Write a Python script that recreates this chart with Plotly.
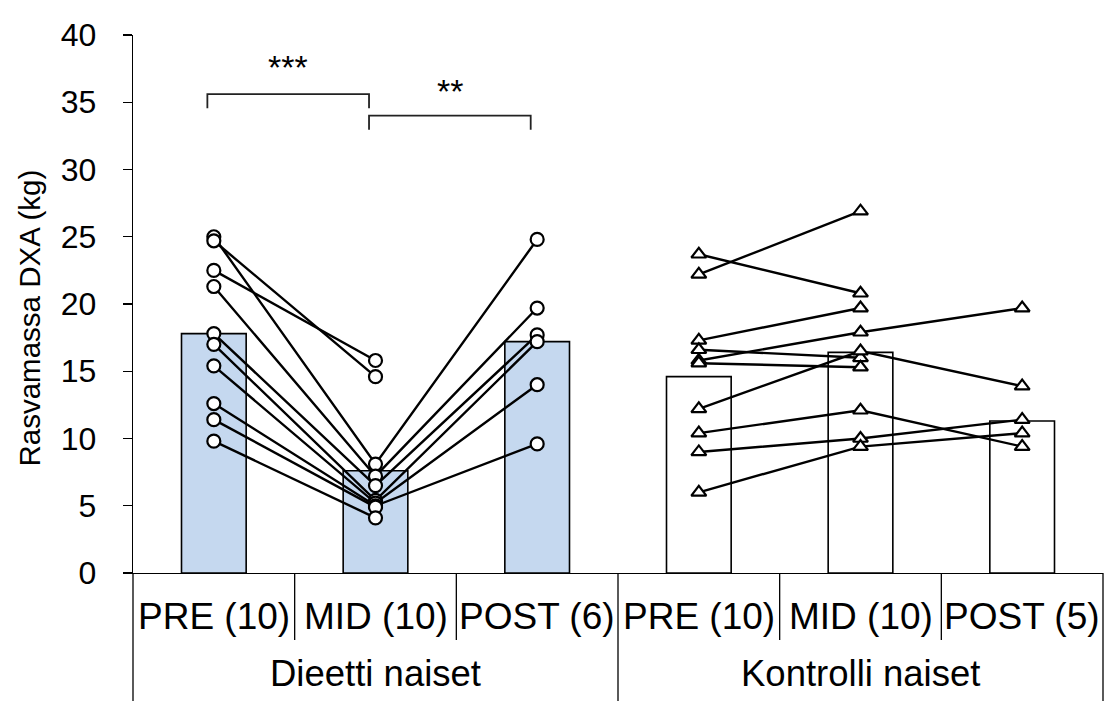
import plotly.graph_objects as go

# ---------------- data ----------------
groups = ["Dieetti naiset", "Kontrolli naiset"]
diet_labels = ["PRE (10)", "MID (10)", "POST (6)"]
ctrl_labels = ["PRE (10)", "MID (10)", "POST (5)"]

diet_means = [17.8, 7.6, 17.2]
ctrl_means = [14.6, 16.4, 11.3]

# individual subjects (diet women)
diet_pre = [25.0, 24.7, 22.5, 21.3, 17.8, 17.0, 15.4, 12.6, 11.4, 9.8]
diet_mid = [8.1, 14.6, 15.8, 7.2, 6.5, 5.4, 5.2, 5.0, 4.9, 4.1]
diet_post = [24.8, None, None, 19.7, 17.7, 17.2, 14.0, 9.6, None, None]

# individual subjects (control women)
ctrl_pre = [22.2, 23.7, 17.3, 15.8, 16.6, 15.6, 12.2, 10.4, 9.0, 6.0]
ctrl_mid = [26.9, 20.8, 19.7, 17.9, 16.0, 15.3, 16.5, 12.1, 10.0, 9.4]
ctrl_post = [None, None, None, 19.7, None, None, 13.9, 9.4, 11.4, 10.4]

# significance brackets (category indices)
sig_start = [0, 1]
sig_end = [1, 2]
sig_level = [35.6, 34.0]
sig_labels = ["***", "**"]
sig_label_y = [37.6, 35.8]

y_title = "Rasvamassa DXA (kg)"

# ---------------- styling ----------------
FONT = "Arial, Liberation Sans, sans-serif"
DIET_FILL = "#C5D8EF"
BLACK = "#000000"

diet_x = [0, 1, 2]
ctrl_x = [3, 4, 5]
all_labels = diet_labels + ctrl_labels
n_cat = len(all_labels)

fig = go.Figure()

fig.add_trace(go.Bar(x=diet_x, y=diet_means, width=0.4,
                     marker=dict(color=DIET_FILL, line=dict(color=BLACK, width=1.6)),
                     showlegend=False, hoverinfo="skip"))
fig.add_trace(go.Bar(x=ctrl_x, y=ctrl_means, width=0.4,
                     marker=dict(color="white", line=dict(color=BLACK, width=1.6)),
                     showlegend=False, hoverinfo="skip"))

def subject_lines(xs, pre, mid, post):
    for a, b, c in zip(pre, mid, post):
        ys = [a, b, c]
        fig.add_trace(go.Scatter(x=xs, y=ys, mode="lines",
                                 line=dict(color=BLACK, width=2.4),
                                 connectgaps=False, showlegend=False,
                                 hoverinfo="skip"))

subject_lines(diet_x, diet_pre, diet_mid, diet_post)
subject_lines(ctrl_x, ctrl_pre, ctrl_mid, ctrl_post)

def markers(xs, pre, mid, post, symbol, size):
    px, py = [], []
    for x, vals in zip(xs, [pre, mid, post]):
        for v in vals:
            if v is not None:
                px.append(x)
                py.append(v)
    fig.add_trace(go.Scatter(x=px, y=py, mode="markers",
                             marker=dict(symbol=symbol, size=size, color="white",
                                         line=dict(color=BLACK, width=2.2)),
                             showlegend=False))

markers(diet_x, diet_pre, diet_mid, diet_post, "circle", 13)
markers(ctrl_x, ctrl_pre, ctrl_mid, ctrl_post, "triangle-up", 13)

shapes = []
annotations = []

# significance brackets
off = -0.04
drop = 1.05
for s, e, lvl, lab, ly in zip(sig_start, sig_end, sig_level, sig_labels, sig_label_y):
    x0, x1 = s + off, e + off
    shapes.append(dict(type="path", xref="x", yref="y",
                       path=f"M {x0} {lvl - drop} L {x0} {lvl} L {x1} {lvl} L {x1} {lvl - drop}",
                       line=dict(color="#222222", width=1.8)))
    annotations.append(dict(x=(x0 + x1) / 2, y=ly, xref="x", yref="y", text=lab,
                            showarrow=False, font=dict(family=FONT, size=34, color=BLACK),
                            xanchor="center", yanchor="middle"))

# plot geometry (page body margin removed in post_script, figure fills the window)
FIG_W, FIG_H = 1106, 701
M_L, M_R, M_T, M_B = 133, 3, 35, 128
H_PLOT = FIG_H - M_T - M_B
W_PLOT = FIG_W - M_L - M_R
inner_div = -67 / H_PLOT
outer_div = -(M_B + 5) / H_PLOT

# inner dividers between time points
for g in range(2):
    for k in range(1, 3):
        xb = g * 3 + k - 0.5
        shapes.append(dict(type="line", xref="x", yref="paper", x0=xb, x1=xb,
                           y0=0, y1=inner_div, line=dict(color=BLACK, width=1.3)))
# group dividers (at group boundaries, in paper fraction of the category axis)
for gb in [0, 3, 6]:
    xp = gb / n_cat
    shapes.append(dict(type="line", xref="paper", yref="paper", x0=xp, x1=xp,
                       y0=0, y1=outer_div, line=dict(color=BLACK, width=1.3)))

# inner category labels
for i, lab in enumerate(all_labels):
    annotations.append(dict(x=i, y=-43 / H_PLOT, xref="x", yref="paper", text=lab,
                            showarrow=False, font=dict(family=FONT, size=37, color=BLACK),
                            xanchor="center", yanchor="middle"))
# group labels
for g, lab in enumerate(groups):
    annotations.append(dict(x=g * 3 + 1, y=-100 / H_PLOT, xref="x", yref="paper", text=lab,
                            showarrow=False, font=dict(family=FONT, size=36.5, color=BLACK),
                            xanchor="center", yanchor="middle"))
# y-axis title
annotations.append(dict(x=-104 / W_PLOT, y=(573 - 318.5) / H_PLOT, xref="paper", yref="paper",
                        text=y_title, textangle=-90, showarrow=False,
                        font=dict(family=FONT, size=29.5, color=BLACK),
                        xanchor="center", yanchor="middle"))

fig.update_layout(
    width=FIG_W, height=FIG_H,
    margin=dict(l=M_L, r=M_R, t=M_T, b=M_B),
    paper_bgcolor="white", plot_bgcolor="white",
    showlegend=False,
    bargap=0,
    xaxis=dict(range=[-0.5, 5.5], showticklabels=False, ticks="", showgrid=False,
               zeroline=False, showline=True, linecolor=BLACK, linewidth=1.3,
               fixedrange=True),
    yaxis=dict(range=[0, 40], dtick=5, tick0=0, showgrid=False, zeroline=False,
               showline=True, linecolor=BLACK, linewidth=1.3,
               ticks="outside", ticklen=9, tickwidth=1.3, tickcolor=BLACK,
               ticklabelstandoff=20,
               tickfont=dict(family=FONT, size=32, color=BLACK), fixedrange=True),
    shapes=shapes,
    annotations=annotations,
)

fig.write_html("out.html",
               config={"displayModeBar": False, "staticPlot": True},
               post_script="document.body.style.margin='0px';"
                           "document.body.style.overflow='hidden';")
